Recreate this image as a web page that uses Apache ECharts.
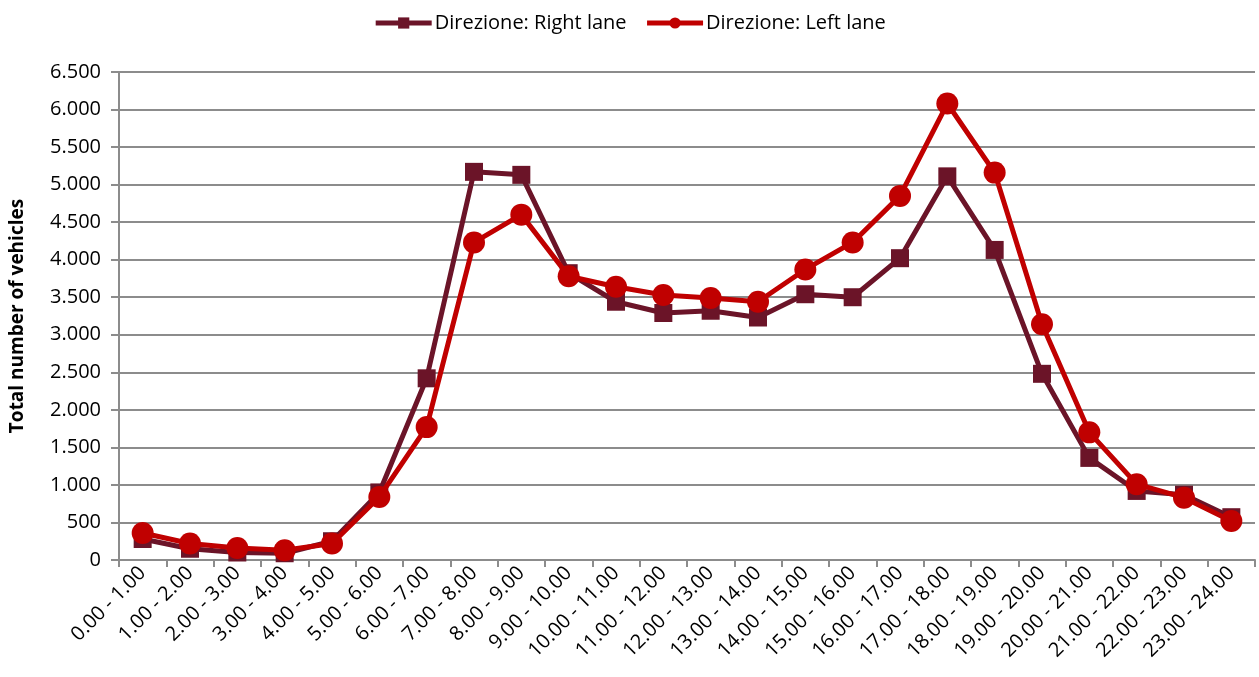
<!DOCTYPE html>
<html>
<head>
<meta charset="utf-8">
<script src="https://cdn.jsdelivr.net/npm/echarts@6/dist/echarts.min.js"></script>
<style>html,body{margin:0;padding:0;background:#fff}#c{width:1259px;height:677px}</style>
</head>
<body>
<div id="c"></div>
<script>
const hours = ['0.00 - 1.00','1.00 - 2.00','2.00 - 3.00','3.00 - 4.00','4.00 - 5.00','5.00 - 6.00','6.00 - 7.00','7.00 - 8.00','8.00 - 9.00','9.00 - 10.00','10.00 - 11.00','11.00 - 12.00','12.00 - 13.00','13.00 - 14.00','14.00 - 15.00','15.00 - 16.00','16.00 - 17.00','17.00 - 18.00','18.00 - 19.00','19.00 - 20.00','20.00 - 21.00','21.00 - 22.00','22.00 - 23.00','23.00 - 24.00'];
const rightLane = [280,150,100,90,250,900,2420,5170,5130,3820,3440,3290,3320,3230,3540,3500,4020,5110,4130,2480,1360,920,870,570];
const leftLane = [360,220,160,130,220,840,1770,4230,4600,3780,3640,3530,3490,3440,3870,4230,4850,6080,5160,3140,1700,1010,830,520];

const chart = echarts.init(document.getElementById('c'), null, { renderer: 'canvas' });
const font = '"Open Sans", "Noto Sans", sans-serif';
chart.setOption({
  backgroundColor: '#fff',
  textStyle: { fontFamily: font },
  grid: { top: 72, right: 4, bottom: 117, left: 117, containLabel: false },
  legend: {
    top: 8, left: 'center', itemWidth: 56, itemHeight: 14, itemGap: 18,
    lineStyle: { width: 5 },
    textStyle: { color: '#000', fontSize: 20, fontFamily: font, padding: [0, 0, 0, -2] },
    data: ['Direzione: Right lane', 'Direzione: Left lane']
  },
  xAxis: {
    type: 'category', data: hours, boundaryGap: true,
    axisLine: { lineStyle: { color: '#8c8c8c', width: 2 } },
    axisTick: { show: true, length: 7, lineStyle: { color: '#8c8c8c', width: 2 } },
    axisLabel: { rotate: 45, color: '#000', fontSize: 20, fontFamily: font, margin: 10, interval: 0 }
  },
  yAxis: {
    type: 'value', min: 0, max: 6500, interval: 500,
    name: 'Total number of vehicles', nameLocation: 'middle', nameGap: 92,
    nameTextStyle: { color: '#000', fontSize: 19, fontWeight: 'bold', fontFamily: font },
    axisLine: { show: true, lineStyle: { color: '#8c8c8c', width: 2 } },
    axisTick: { show: true, length: 8, lineStyle: { color: '#8c8c8c', width: 2 } },
    axisLabel: { color: '#000', fontSize: 20, fontFamily: font, margin: 18,
      formatter: v => v.toString().replace(/\B(?=(\d{3})+(?!\d))/g, '.') },
    splitLine: { lineStyle: { color: '#8c8c8c', width: 2 } }
  },
  series: [
    { name: 'Direzione: Right lane', type: 'line', data: rightLane, symbol: 'rect', symbolSize: 18,
      lineStyle: { color: '#6b1428', width: 5 }, itemStyle: { color: '#6b1428' }, z: 2 },
    { name: 'Direzione: Left lane', type: 'line', data: leftLane, symbol: 'circle', symbolSize: 22,
      lineStyle: { color: '#c00000', width: 5 }, itemStyle: { color: '#c00000' }, z: 3 }
  ]
});
</script>
</body>
</html>
